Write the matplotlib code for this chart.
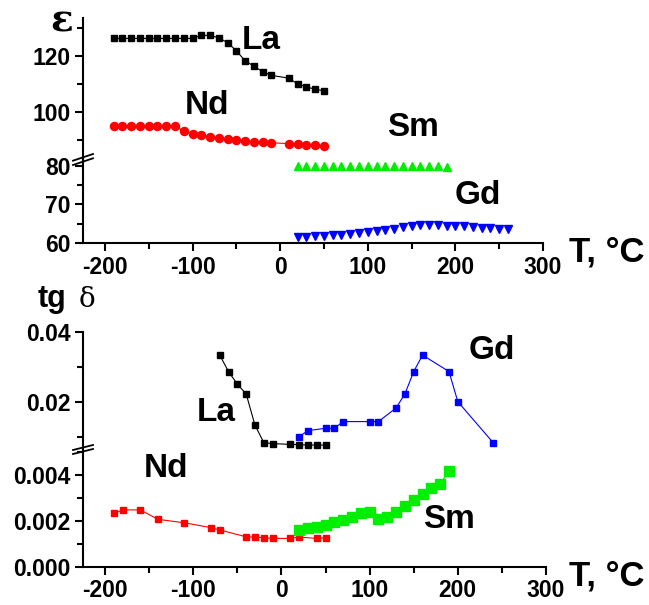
import numpy as np
import matplotlib
matplotlib.use('Agg')
import matplotlib.pyplot as plt
from matplotlib.lines import Line2D

plt.rcParams['font.family'] = ['Liberation Sans', 'DejaVu Sans']
plt.rcParams['font.weight'] = 'bold'
plt.rcParams['axes.unicode_minus'] = False

# Диэлектрическая проницаемость (верхний график)
eps_la_t = [-190, -180, -170, -160, -150, -140, -130, -120, -110, -100, -90, -80, -70, -60, -50, -40, -30, -20, -10,
            10, 20, 30, 40, 50]
eps_la = [126.3, 126.3, 126.3, 126.3, 126.3, 126.3, 126.3, 126.3, 126.3, 126.3, 127.4, 127.4, 126.5, 124.8, 121.9,
          118.3, 116.4, 114.4, 113.1, 112.1, 110.0, 109.0, 108.1, 107.6]
eps_nd_t = eps_la_t
eps_nd = [95.0, 95.0, 95.0, 95.0, 95.0, 95.0, 95.0, 95.0, 93.2, 92.1, 91.7, 91.2, 90.8, 90.2, 89.9, 89.8, 89.4, 89.2,
          89.0, 88.7, 88.4, 88.3, 88.1, 87.9]
eps_sm_t = [20, 30, 40, 50, 60, 70, 80, 90, 100, 110, 120, 130, 140, 150, 160, 170, 180, 190]
eps_sm = [80.0, 80.0, 80.0, 80.0, 80.0, 80.0, 80.0, 80.0, 80.0, 80.0, 80.0, 80.0, 80.0, 80.0, 80.0, 80.0, 80.0, 79.8]
eps_gd_t = [20, 30, 40, 50, 60, 70, 80, 90, 100, 110, 120, 130, 140, 150, 160, 170, 180, 190, 200, 210, 220, 230,
            240, 250, 260]
eps_gd = [61.6, 61.6, 61.7, 61.8, 62.0, 62.2, 62.4, 62.7, 62.9, 63.1, 63.4, 63.7, 64.1, 64.4, 64.6, 64.6, 64.6, 64.5,
          64.4, 64.3, 64.2, 64.0, 63.8, 63.7, 63.6]

# Тангенс угла потерь (нижний график)
tg_la_t = [-70, -60, -50, -40, -30, -20, -10, 10, 20, 30, 40, 50]
tg_la = [0.0334, 0.0287, 0.0251, 0.0223, 0.0134, 0.0084, 0.0081, 0.0079, 0.0078, 0.0077, 0.0077, 0.0077]
tg_gd_t = [20, 30, 50, 60, 70, 100, 110, 130, 140, 150, 160, 190, 200, 240]
tg_gd = [0.0101, 0.0118, 0.0125, 0.0125, 0.0144, 0.0144, 0.0144, 0.0183, 0.0223, 0.0287, 0.0334, 0.0287, 0.0201,
         0.0084]
tg_nd_t = [-190, -180, -160, -140, -110, -80, -70, -40, -30, -20, -10, 10, 20, 40, 50]
tg_nd = [0.00232, 0.00247, 0.00247, 0.00206, 0.00191, 0.00170, 0.00160, 0.00130, 0.00129, 0.00126, 0.00123,
         0.00123, 0.00129, 0.00123, 0.00126]
tg_sm_t = [20, 30, 40, 50, 60, 70, 80, 90, 100, 110, 120, 130, 140, 150, 160, 170, 180, 190]
tg_sm = [0.00160, 0.00167, 0.00174, 0.00181, 0.00196, 0.00203, 0.00217, 0.00232, 0.00239, 0.00206, 0.00217,
         0.00239, 0.00264, 0.00290, 0.00316, 0.00341, 0.00360, 0.00417]

W, H = 649, 605
fig = plt.figure(figsize=(W / 100, H / 100), dpi=100)


def px_axes(x0, x1, y_top, y_bot):
    # прямоугольник в пикселях -> доли фигуры
    return fig.add_axes([x0 / W, 1 - y_bot / H, (x1 - x0) / W, (y_bot - y_top) / H])


def style(ax, show_x):
    for s in ['top', 'right']:
        ax.spines[s].set_visible(False)
    ax.spines['left'].set_linewidth(1.5)
    ax.spines['bottom'].set_linewidth(1.5)
    ax.tick_params(which='major', direction='out', length=6, width=1.5, labelsize=16.5, pad=3)
    ax.tick_params(which='minor', direction='out', length=4, width=1.5)
    ax.set_xlim(-225, 300)
    if show_x:
        ax.set_xticks([-200, -100, 0, 100, 200, 300])
        ax.set_xticks([-150, -50, 50, 150, 250], minor=True)
    else:
        ax.spines['bottom'].set_visible(False)
        ax.set_xticks([])
        ax.set_xticks([], minor=True)
    for lab in ax.get_xticklabels() + ax.get_yticklabels():
        lab.set_fontweight('bold')
    ax.patch.set_alpha(0)


# Верхний график: две части оси
ax1u = px_axes(83, 543, 18, 159)
ax1l = px_axes(83, 543, 159, 243)
ax1u.set_ylim(83.2, 133.6)
ax1l.set_ylim(60, 81.8)
style(ax1u, False)
style(ax1l, True)
ax1u.set_yticks([100, 120])
ax1u.set_yticks([90, 110, 130], minor=True)
ax1l.set_yticks([60, 70, 80])
ax1l.set_yticks([65, 75], minor=True)

ax1u.plot(eps_la_t, eps_la, color='black', lw=0.8, marker='s', ms=4.6, clip_on=False)
ax1u.plot(eps_nd_t, eps_nd, color='red', lw=0.8, marker='o', ms=5.8, clip_on=False)
ax1l.plot(eps_sm_t, eps_sm, color='#00ee00', lw=0, marker='^', ms=6, clip_on=False)
ax1l.plot(eps_gd_t, eps_gd, color='blue', lw=0, marker='v', ms=6, clip_on=False)

ax1u.text(-21, 125.4, 'La', fontsize=24, ha='center', va='center')
ax1u.text(-83, 102.5, 'Nd', fontsize=24, ha='center', va='center')
ax1u.text(152, 94.3, 'Sm', fontsize=24, ha='center', va='center')
ax1l.text(226, 72.2, 'Gd', fontsize=24, ha='center', va='center')

# Нижний график
ax2u = px_axes(83, 546, 332, 449)
ax2l = px_axes(83, 546, 449, 566.7)
ax2u.set_ylim(0.00657, 0.04)
ax2l.set_ylim(0, 0.00512)
style(ax2u, False)
style(ax2l, True)
ax2u.set_yticks([0.02, 0.04])
ax2u.set_yticklabels(['0.02', '0.04'], fontweight='bold')
ax2u.set_yticks([0.01, 0.03], minor=True)
ax2l.set_yticks([0.0, 0.002, 0.004])
ax2l.set_yticklabels(['0.000', '0.002', '0.004'], fontweight='bold')
ax2l.set_yticks([0.001, 0.003, 0.005], minor=True)

ax2u.plot(tg_la_t, tg_la, color='black', lw=0.8, marker='s', ms=5, clip_on=False)
ax2u.plot(tg_gd_t, tg_gd, color='blue', lw=0.8, marker='s', ms=5, clip_on=False)
ax2l.plot(tg_nd_t, tg_nd, color='red', lw=0.8, marker='s', ms=5, clip_on=False)
ax2l.plot(tg_sm_t, tg_sm, color='#00ee00', lw=0.8, marker='s', ms=6.5, clip_on=False)

ax2u.text(-74, 0.0171, 'La', fontsize=24, ha='center', va='center')
ax2u.text(238, 0.0346, 'Gd', fontsize=24, ha='center', va='center')
ax2l.text(-131, 0.00429, 'Nd', fontsize=24, ha='center', va='center')
ax2l.text(190, 0.00207, 'Sm', fontsize=24, ha='center', va='center')

# Подписи осей
fig.text(50 / W, 1 - 32 / H, 'ε', fontsize=27, ha='left', va='baseline', family=['DejaVu Serif'])
fig.text(38 / W, 1 - 307 / H, 'tg', fontsize=22, ha='left', va='baseline')
fig.text(79 / W, 1 - 307 / H, 'δ', fontsize=20, ha='left', va='baseline', family=['DejaVu Serif'],
         fontweight='normal')
fig.text(607 / W, 1 - 252 / H, 'T, °C', fontsize=25, ha='center', va='center')
fig.text(607 / W, 1 - 576 / H, 'T, °C', fontsize=25, ha='center', va='center')

# Значки разрыва оси
for y0 in [(160.7, 154), (165, 158.3), (450, 445), (454, 449)]:
    fig.add_artist(Line2D([73 / W, 93 / W], [1 - y0[0] / H, 1 - y0[1] / H], color='black', lw=1.3))

plt.savefig('out.png', dpi=100)
